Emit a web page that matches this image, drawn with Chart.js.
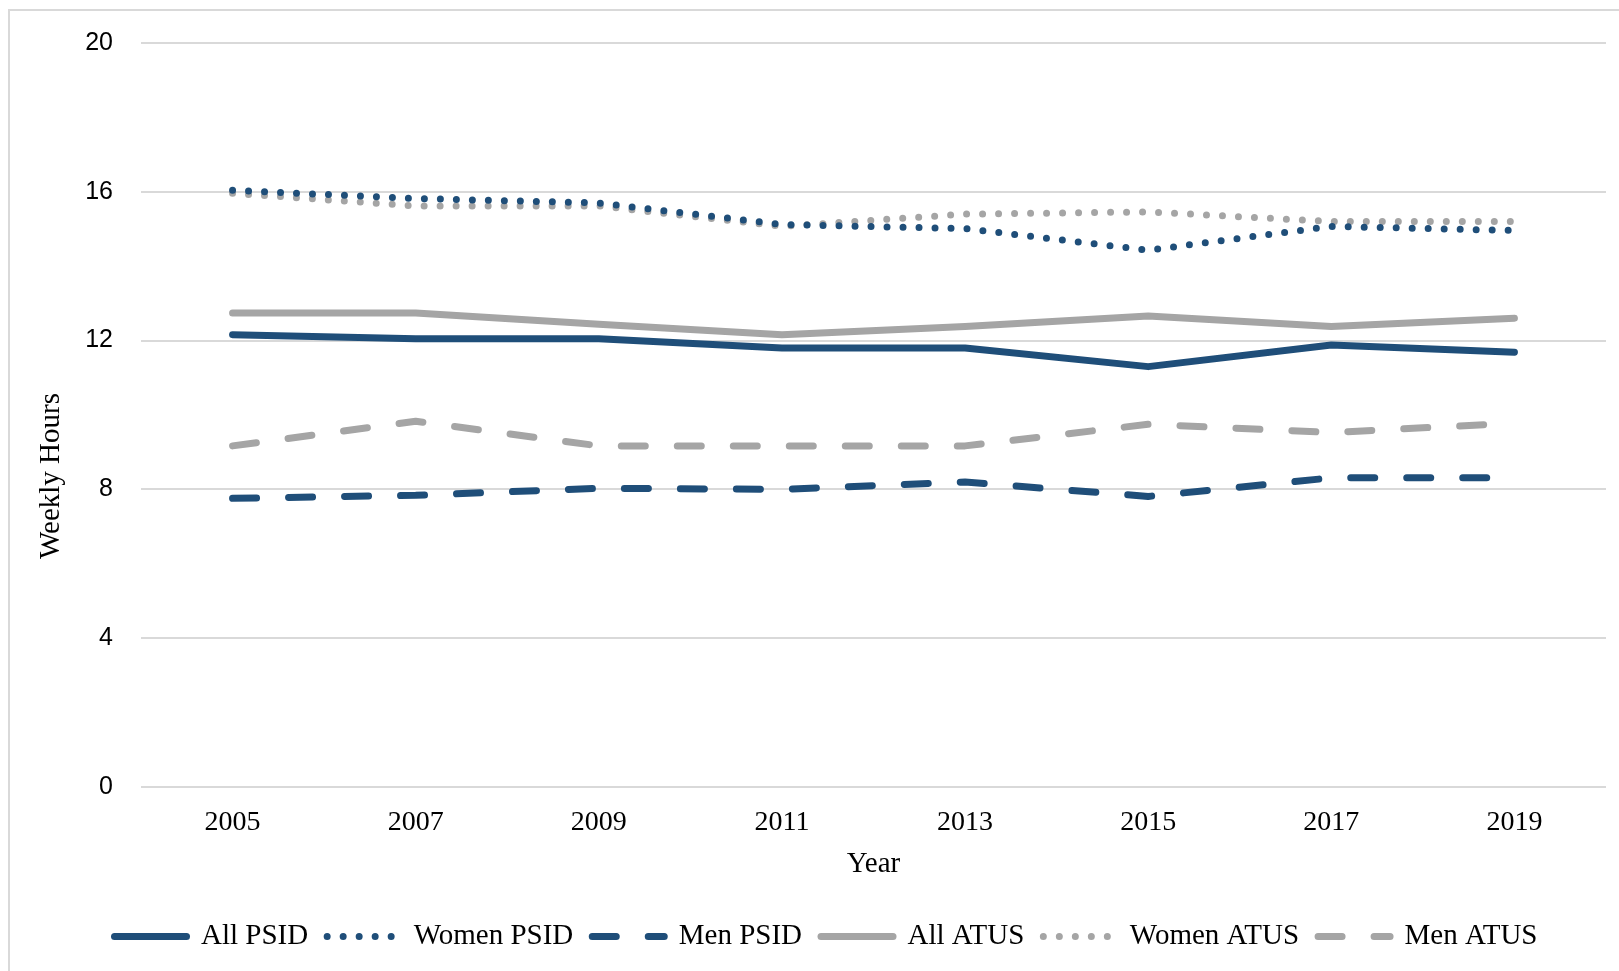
<!DOCTYPE html>
<html>
<head>
<meta charset="utf-8">
<script src="https://cdn.jsdelivr.net/npm/chart.js@4.4.1/dist/chart.umd.min.js"></script>
<style>
  html, body { margin: 0; padding: 0; background: #fff; overflow: hidden; }
  #frame { position: absolute; left: 8px; top: 9px; width: 1700px; height: 1100px; border: 2px solid #d9d9d9; }
  #wrap { position: absolute; left: 0; top: 0; width: 1619px; height: 971px; }
</style>
</head>
<body>
<div id="frame"></div>
<div id="wrap"><canvas id="myChart" width="1619" height="971"></canvas></div>
<script>
// 年
var years = ['2005', '2007', '2009', '2011', '2013', '2015', '2017', '2019'];

// 週あたり時間
var allPSID   = [12.16, 12.05, 12.05, 11.80, 11.80, 11.30, 11.88, 11.69];
var womenPSID = [16.04, 15.82, 15.70, 15.12, 15.01, 14.43, 15.07, 14.96];
var menPSID   = [7.76, 7.84, 8.03, 8.00, 8.20, 7.81, 8.31, 8.31];
var allATUS   = [12.74, 12.74, 12.44, 12.16, 12.38, 12.66, 12.38, 12.60];
var womenATUS = [15.96, 15.62, 15.62, 15.07, 15.40, 15.46, 15.20, 15.20];
var menATUS   = [9.17, 9.83, 9.17, 9.17, 9.17, 9.75, 9.53, 9.78];

var yTicks = [0, 4, 8, 12, 16, 20];

var blue = '#1f4e79';
var gray = '#a5a5a5';
var serif = '"Liberation Serif", "Times New Roman", serif';

function series(label, data, color, style) {
  var ds = {
    label: label,
    data: data,
    borderColor: color,
    backgroundColor: color,
    fill: false,
    tension: 0,
    pointRadius: 0,
    pointHoverRadius: 0,
    borderCapStyle: 'round',
    borderJoinStyle: 'round'
  };
  if (style == 'solid') {
    ds.borderWidth = 7;
  } else if (style == 'dot') {
    ds.borderWidth = 7;
    ds.borderDash = [0, 16];
  } else {
    ds.borderWidth = 7;
    ds.borderDash = [24, 32];
  }
  return ds;
}

// 凡例にも線種を反映させる
function legendLabels(chart) {
  var items = Chart.defaults.plugins.legend.labels.generateLabels(chart);
  items.forEach(function(item) {
    var ds = chart.data.datasets[item.datasetIndex];
    item.lineDash = ds.borderDash || [];
    item.lineCap = 'round';
    item.lineWidth = ds.borderWidth;
    item.strokeStyle = ds.borderColor;
    item.fillStyle = ds.borderColor;
    item.fontColor = '#000';
  });
  return items;
}

// Y軸タイトル（少し下にずれているので自前で描く）
var yTitlePlugin = {
  id: 'yTitle',
  afterDraw: function(chart) {
    var ctx = chart.ctx;
    ctx.save();
    ctx.translate(51, 476);
    ctx.rotate(-Math.PI / 2);
    ctx.fillStyle = '#000';
    ctx.font = '29px ' + serif;
    ctx.textAlign = 'center';
    ctx.textBaseline = 'middle';
    ctx.fillText('Weekly Hours', 0, 0);
    ctx.restore();
  }
};

var ctx = document.getElementById('myChart').getContext('2d');
var myChart = new Chart(ctx, {
  type: 'line',
  data: {
    labels: years,
    datasets: [
      series('All PSID', allPSID, blue, 'solid'),
      series('Women PSID', womenPSID, blue, 'dot'),
      series('Men PSID', menPSID, blue, 'dash'),
      series('All ATUS', allATUS, gray, 'solid'),
      series('Women ATUS', womenATUS, gray, 'dot'),
      series('Men ATUS', menATUS, gray, 'dash')
    ]
  },
  options: {
    responsive: false,
    animation: false,
    events: [],
    layout: { padding: { left: 46, right: 13, top: 39, bottom: 10 } },
    scales: {
      x: {
        offset: true,
        grid: { display: false, drawTicks: false },
        border: { display: false },
        ticks: { color: '#000', font: { family: serif, size: 28 }, padding: 19, maxRotation: 0 },
        title: { display: true, text: 'Year', color: '#000', font: { family: serif, size: 29 }, padding: { top: 7, bottom: 21 } },
        afterFit: function(scale) { scale.height = 116; }
      },
      y: {
        min: 0,
        max: 20,
        afterBuildTicks: function(scale) {
          scale.ticks = yTicks.map(function(v) { return { value: v }; });
        },
        grid: { color: '#d9d9d9', lineWidth: 2, drawTicks: false },
        border: { display: false },
        ticks: { color: '#000', font: { family: '"Liberation Sans", Arial, sans-serif', size: 25 }, padding: 28 },
        afterFit: function(scale) { scale.width = 95; }
      }
    },
    plugins: {
      legend: {
        position: 'bottom',
        labels: {
          usePointStyle: true,
          pointStyle: 'line',
          pointStyleWidth: 72,
          color: '#000',
          font: { family: serif, size: 29 },
          padding: 19,
          generateLabels: legendLabels
        }
      },
      tooltip: { enabled: false }
    }
  },
  plugins: [yTitlePlugin]
});
</script>
</body>
</html>
